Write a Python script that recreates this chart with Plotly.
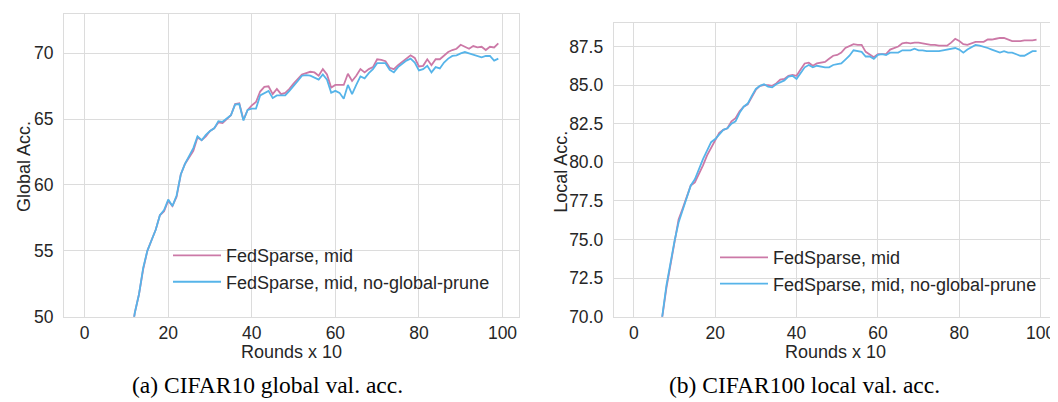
import plotly.graph_objects as go

rounds = list(range(100))

# (a) CIFAR10 global val. acc.
global_mid = [10.0, 18.5, 25.6, 31.0, 35.2, 38.6, 41.3, 43.4, 45.1, 46.6, 47.4, 48.2,
              50.3, 51.7, 53.6, 55.0, 55.8, 56.6, 57.7, 58.0, 58.8, 58.4, 59.1, 60.8,
              61.6, 62.1, 62.6, 63.6, 63.4, 63.7, 64.1, 64.3, 64.75, 64.7, 65.0, 65.3,
              66.15, 66.2, 64.95, 65.7, 66.05, 66.3, 67.1, 67.45, 67.5, 66.9, 67.3, 66.9,
              67.0, 67.3, 67.7, 68.05, 68.4, 68.5, 68.6, 68.55, 68.3, 68.8, 68.4, 67.4,
              67.6, 67.6, 67.6, 68.45, 67.9, 68.3, 68.8, 68.55, 68.8, 68.95, 69.55, 69.5,
              69.4, 68.9, 68.8, 69.1, 69.35, 69.55, 69.85, 69.65, 69.0, 69.05, 69.55, 69.1,
              69.55, 69.55, 69.8, 70.1, 70.25, 70.35, 70.65, 70.5, 70.35, 70.55, 70.45, 70.5,
              70.25, 70.5, 70.45, 70.75]
global_noprune = [10.0, 18.5, 25.6, 31.0, 35.2, 38.6, 41.3, 43.4, 45.1, 46.6, 47.4, 48.2,
                  50.3, 51.7, 53.7, 55.0, 55.8, 56.6, 57.7, 58.1, 58.9, 58.4, 59.2, 60.8,
                  61.6, 62.2, 62.8, 63.7, 63.4, 63.8, 64.1, 64.3, 64.85, 64.8, 65.05, 65.3,
                  66.1, 66.15, 64.9, 65.7, 65.8, 65.8, 66.8, 67.0, 67.15, 66.6, 66.8, 66.8,
                  66.8, 67.15, 67.5, 67.9, 68.3, 68.35, 68.3, 68.15, 68.0, 68.4, 68.0, 67.0,
                  67.15, 67.0, 66.55, 67.6, 66.9, 67.6, 68.25, 68.1, 68.5, 68.8, 69.25, 69.25,
                  69.25, 68.75, 68.55, 68.95, 69.2, 69.45, 69.6, 69.3, 68.7, 68.8, 69.05, 68.55,
                  68.95, 68.85, 69.3, 69.6, 69.8, 69.85, 70.0, 70.1, 70.0, 69.9, 69.8, 69.7,
                  69.8, 69.8, 69.45, 69.6]

# (b) CIFAR100 local val. acc.
local_mid = [40.0, 50.0, 56.0, 60.5, 63.5, 65.8, 67.7, 70.0, 71.85, 73.4, 74.95, 76.3,
             77.0, 77.75, 78.5, 78.7, 79.2, 79.8, 80.45, 80.95, 81.5, 81.9, 82.1, 82.2,
             82.65, 82.85, 83.3, 83.6, 83.75, 84.2, 84.7, 84.95, 85.0, 85.0, 84.95, 85.1,
             85.35, 85.4, 85.6, 85.65, 85.6, 86.0, 86.4, 86.45, 86.25, 86.4, 86.45, 86.5,
             86.7, 86.9, 86.95, 87.1, 87.4, 87.55, 87.65, 87.6, 87.6, 87.15, 86.95, 86.8,
             87.0, 87.0, 87.0, 87.3, 87.4, 87.5, 87.7, 87.75, 87.7, 87.75, 87.75, 87.7,
             87.65, 87.6, 87.6, 87.55, 87.55, 87.55, 87.75, 88.0, 87.85, 87.65, 87.6, 87.7,
             87.8, 87.8, 87.8, 87.95, 87.95, 88.0, 88.05, 88.05, 87.95, 87.85, 87.85, 87.85,
             87.9, 87.9, 87.9, 87.95]
local_noprune = [40.0, 50.0, 56.0, 60.5, 63.5, 65.8, 67.8, 70.05, 72.0, 73.5, 74.9, 76.1,
                 76.9, 77.7, 78.5, 78.9, 79.6, 80.2, 80.75, 81.3, 81.5, 81.8, 82.1, 82.2,
                 82.5, 82.65, 83.2, 83.6, 83.8, 84.3, 84.75, 84.95, 85.05, 84.9, 84.85, 85.05,
                 85.2, 85.3, 85.55, 85.6, 85.4, 85.8, 86.15, 86.3, 86.15, 86.25, 86.2, 86.15,
                 86.15, 86.3, 86.35, 86.4, 86.65, 86.9, 87.25, 87.2, 87.15, 86.85, 86.85, 86.7,
                 86.95, 87.0, 86.95, 87.1, 87.1, 87.1, 87.25, 87.25, 87.25, 87.35, 87.25, 87.25,
                 87.2, 87.2, 87.2, 87.2, 87.25, 87.3, 87.35, 87.4, 87.3, 87.1, 87.3, 87.45,
                 87.6, 87.55, 87.5, 87.4, 87.3, 87.2, 87.1, 87.2, 87.1, 87.1, 87.0, 86.9,
                 86.9, 87.05, 87.2, 87.2]

series_names = ["FedSparse, mid", "FedSparse, mid, no-global-prune"]
series_colors = ["#CC79A7", "#56B4E9"]

x_ticks = [0, 20, 40, 60, 80, 100]
y_ticks_a = [50, 55, 60, 65, 70]
y_ticks_b = [70.0, 72.5, 75.0, 77.5, 80.0, 82.5, 85.0, 87.5]

captions = ["(a) CIFAR10 global val. acc.", "(b) CIFAR100 local val. acc."]
x_label = "Rounds x 10"
y_labels = ["Global Acc.", "Local Acc."]

W, H = 1058, 402
FONT = "Liberation Sans, Arial, sans-serif"
SERIF = "Liberation Serif, Times New Roman, serif"
TXT = "#262626"
GRID = "#dcdcdc"
FS = 18

fig = go.Figure()
for i, (vals, name) in enumerate(zip([global_mid, global_noprune], series_names)):
    fig.add_trace(go.Scatter(x=rounds, y=vals, mode="lines", name=name,
                             line=dict(color=series_colors[i], width=1.8),
                             xaxis="x", yaxis="y", legend="legend",
                             legendgroup="a%d" % i))
for i, (vals, name) in enumerate(zip([local_mid, local_noprune], series_names)):
    fig.add_trace(go.Scatter(x=rounds, y=vals, mode="lines", name=name,
                             line=dict(color=series_colors[i], width=1.8),
                             xaxis="x2", yaxis="y2", legend="legend2",
                             legendgroup="b%d" % i))

def px_x(p):
    return p / W

def px_y(p):
    return 1 - p / H

axis_common = dict(showgrid=True, gridcolor=GRID, gridwidth=1, zeroline=False,
                   showline=True, linecolor=GRID, linewidth=1, mirror=True,
                   ticks="", tickfont=dict(family=FONT, size=17.5, color=TXT))

legend_common = dict(xanchor="left", yanchor="top", bgcolor="rgba(0,0,0,0)",
                     borderwidth=0, traceorder="grouped", tracegroupgap=0,
                     itemwidth=48, font=dict(family=FONT, size=FS, color=TXT))

fig.update_layout(
    width=W, height=H,
    margin=dict(l=0, r=0, t=0, b=0),
    paper_bgcolor="white", plot_bgcolor="white",
    xaxis=dict(domain=[px_x(56), px_x(511)], range=[-4.95, 103.95], tickvals=x_ticks,
               anchor="y", ticklabelstandoff=0, **axis_common),
    yaxis=dict(domain=[px_y(316.5), px_y(6)], range=[50, 73.0], tickvals=y_ticks_a,
               anchor="x", ticklabelstandoff=6, **axis_common),
    xaxis2=dict(domain=[px_x(605.7), px_x(1048.7)], range=[-4.95, 103.95], tickvals=x_ticks,
                anchor="y2", ticklabelstandoff=0, **axis_common),
    yaxis2=dict(domain=[px_y(316.5), px_y(15.7)], range=[70, 89.0], tickvals=y_ticks_b,
                tickformat=".1f", anchor="x2", ticklabelstandoff=6, **axis_common),
    legend=dict(x=px_x(160), y=px_y(235), **legend_common),
    legend2=dict(x=px_x(707), y=px_y(237), **legend_common),
    showlegend=True,
)

annotations = [
    dict(text=x_label, x=px_x(283), y=px_y(353), xref="paper", yref="paper",
         xanchor="center", yanchor="middle", showarrow=False,
         font=dict(family=FONT, size=FS, color=TXT)),
    dict(text=x_label, x=px_x(827), y=px_y(353), xref="paper", yref="paper",
         xanchor="center", yanchor="middle", showarrow=False,
         font=dict(family=FONT, size=FS, color=TXT)),
    dict(text=y_labels[0], x=px_x(16), y=px_y(163), xref="paper", yref="paper",
         xanchor="center", yanchor="middle", showarrow=False, textangle=-90,
         font=dict(family=FONT, size=FS, color=TXT)),
    dict(text=y_labels[1], x=px_x(553), y=px_y(168), xref="paper", yref="paper",
         xanchor="center", yanchor="middle", showarrow=False, textangle=-90,
         font=dict(family=FONT, size=FS, color=TXT)),
    dict(text=captions[0], x=px_x(259.5), y=px_y(387), xref="paper", yref="paper",
         xanchor="center", yanchor="middle", showarrow=False,
         font=dict(family=SERIF, size=23.5, color="black")),
    dict(text=captions[1], x=px_x(796.5), y=px_y(387), xref="paper", yref="paper",
         xanchor="center", yanchor="middle", showarrow=False,
         font=dict(family=SERIF, size=23.5, color="black")),
]
fig.update_layout(annotations=annotations)

fig.write_html("out.html")
